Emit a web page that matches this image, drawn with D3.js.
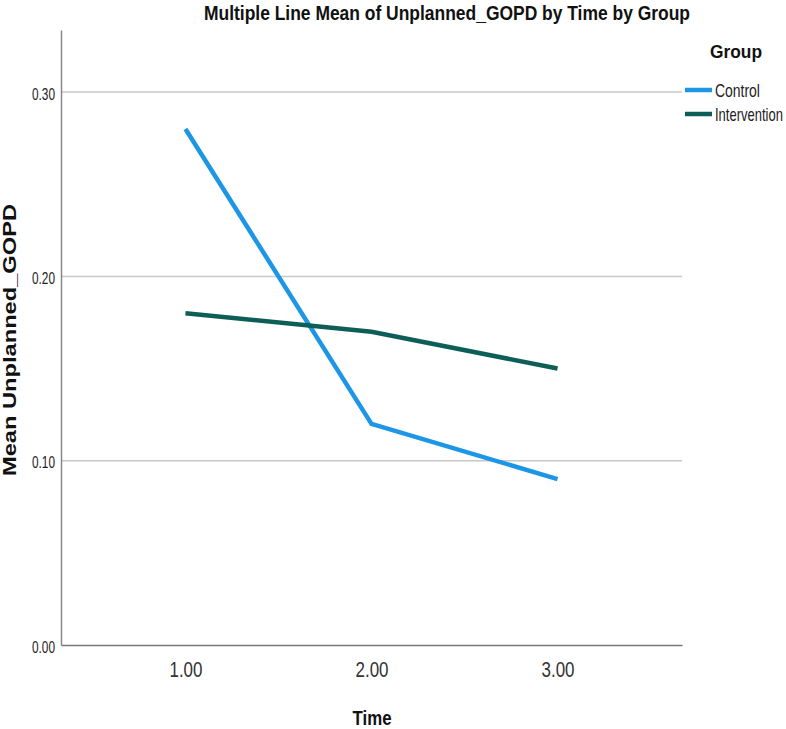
<!DOCTYPE html>
<html><head><meta charset="utf-8">
<script src="https://cdn.jsdelivr.net/npm/d3@7"></script>
<style>body{margin:0;background:#fff}</style>
</head><body>
<svg id="c" width="786" height="729"></svg>
<script>
const times = ["1.00","2.00","3.00"];
const groups = ["Control","Intervention"];
const controlValues = [0.28, 0.12, 0.09];
const interventionValues = [0.18, 0.17, 0.15];
const yTicks = [0, 0.1, 0.2, 0.3];
const colors = ["#1e96e6","#0e5e58"];
const series = [controlValues, interventionValues];

const svg = d3.select("#c");
const sans = "'Liberation Sans',Arial,sans-serif";
const mLeft = 61, mRight = 682, mTop = 30, mBottom = 645;
const y = d3.scaleLinear().domain([0, 0.3337]).range([mBottom, mTop]);
const x = d3.scalePoint().domain(times).range([mLeft, mRight]).padding(0.669);

function fit(sel, len) {
  sel.attr("textLength", len).attr("lengthAdjust", "spacingAndGlyphs");
}

// gridlines
svg.append("g").selectAll("line").data(yTicks.filter(d=>d>0)).join("line")
  .attr("x1", mLeft).attr("x2", mRight).attr("y1", d=>y(d)).attr("y2", d=>y(d))
  .attr("stroke", "#c8c8c8").attr("stroke-width", 1.5);

// y axis
const ya = svg.append("g").attr("transform", `translate(${mLeft},0)`)
  .call(d3.axisLeft(y).tickValues(yTicks).tickFormat(d3.format(".2f")).tickSize(0).tickSizeOuter(0).tickPadding(6));
ya.select(".domain").attr("stroke", "#888").attr("stroke-width", 1.5);
ya.selectAll("text").attr("font-family", sans).attr("font-size", 16).attr("fill", "#222")
  .attr("dy", "0.45em").call(fit, 23);

// x axis
const xa = svg.append("g").attr("transform", `translate(0,${mBottom})`)
  .call(d3.axisBottom(x).tickSize(0).tickSizeOuter(0).tickPadding(16));
xa.select(".domain").attr("stroke", "#777").attr("stroke-width", 1.5);
xa.selectAll("text").attr("font-family", sans).attr("font-size", 22).attr("fill", "#333")
  .call(fit, 33);

// lines
const line = d3.line().x((d,i)=>x(times[i])).y(d=>y(d));
svg.append("g").selectAll("path").data(series).join("path")
  .attr("d", line).attr("fill","none")
  .attr("stroke", (d,i)=>colors[i]).attr("stroke-width", 4.5);

// title
svg.append("text").attr("x", 447).attr("y", 20).attr("text-anchor","middle")
  .attr("font-family", sans).attr("font-size", 20).attr("font-weight","bold").attr("fill","#111")
  .text("Multiple Line Mean of Unplanned_GOPD by Time by Group").call(fit, 486);

// axis titles
svg.append("text").attr("x", 372).attr("y", 725).attr("text-anchor","middle")
  .attr("font-family", sans).attr("font-size", 20).attr("font-weight","bold").attr("fill","#111")
  .text("Time").call(fit, 39);
svg.append("text").attr("transform", "translate(16,340) rotate(-90)").attr("text-anchor","middle")
  .attr("font-family", sans).attr("font-size", 19).attr("font-weight","bold").attr("fill","#111")
  .text("Mean Unplanned_GOPD").call(fit, 272);

// legend
svg.append("text").attr("x", 710).attr("y", 58)
  .attr("font-family", sans).attr("font-size", 19).attr("font-weight","bold").attr("fill","#111")
  .text("Group").call(fit, 52);
const lg = svg.append("g").selectAll("g").data(groups).join("g")
  .attr("transform", (d,i)=>`translate(685,${90 + i*24})`);
lg.append("line").attr("x1",0).attr("x2",27).attr("stroke",(d,i)=>colors[i]).attr("stroke-width",4.5);
lg.append("text").attr("font-family", sans).attr("font-size", 18).attr("fill","#222")
  .text(d=>d)
  .each(function(d){
    const t = d3.select(this);
    const w = this.getComputedTextLength();
    const target = d === "Control" ? 45 : 68;
    t.attr("transform", `translate(30,7) scale(${target / w},1)`);
  });
</script>
</body></html>
